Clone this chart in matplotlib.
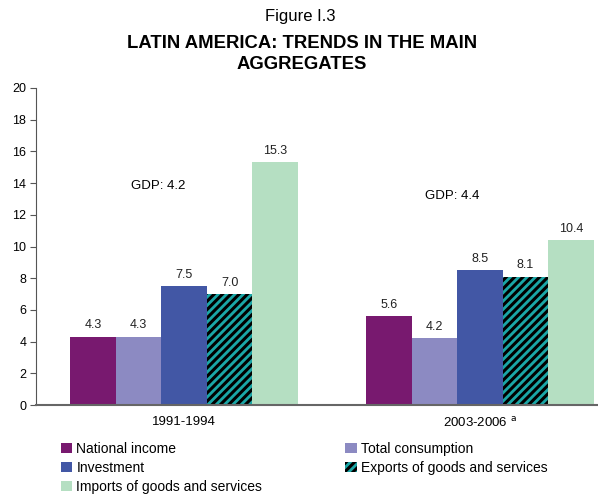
import matplotlib.pyplot as plt
import numpy as np

plt.rcParams["font.family"] = ["Liberation Sans", "DejaVu Sans"]
plt.rcParams["hatch.linewidth"] = 2.2

periods = ["1991-1994", "2003-2006"]
series = [
    "National income",
    "Total consumption",
    "Investment",
    "Exports of goods and services",
    "Imports of goods and services",
]
values = [
    [4.3, 5.6],
    [4.3, 4.2],
    [7.5, 8.5],
    [7.0, 8.1],
    [15.3, 10.4],
]
gdp = [4.2, 4.4]

colors = ["#78196F", "#8C8AC2", "#4257A5", "#1AA6A6", "#B5DFC2"]
hatches = [None, None, None, "////", None]

W, H = 598, 496
fig = plt.figure(figsize=(W / 100, H / 100), dpi=100)
ax = fig.add_axes([36 / W, (H - 405) / H, (598 - 36) / W, (405 - 88) / H])

x = np.arange(len(periods))
width = 0.154
for i, (name, vals) in enumerate(zip(series, values)):
    pos = x + (i - 2) * width
    if hatches[i]:
        bars = ax.bar(pos, vals, width, color=colors[i], edgecolor="black",
                      hatch=hatches[i], linewidth=0, label=name)
    else:
        bars = ax.bar(pos, vals, width, color=colors[i], linewidth=0, label=name)
    for b, v in zip(bars, vals):
        ax.text(b.get_x() + b.get_width() / 2, v + 0.35, f"{v:.1f}",
                ha="center", va="bottom", fontsize=9, color="#222222")

ax.set_xlim(-0.5, 1.5 - 30 / 296)
ax.set_ylim(0, 20)
ax.set_yticks(range(0, 21, 2))
ax.tick_params(axis="y", labelsize=9, length=4, color="#555555", width=0.8, pad=3)
ax.set_xticks([])
for s in ["top", "right"]:
    ax.spines[s].set_visible(False)
ax.spines["left"].set_color("#555555")
ax.spines["left"].set_linewidth(0.8)
ax.spines["bottom"].set_color("#666666")
ax.spines["bottom"].set_linewidth(1.5)

# period labels under the axis
ax.text(0, -0.7, periods[0], ha="center", va="top", fontsize=9.5)
ax.text(1, -0.7, periods[1] + " $^{\\mathrm{a}}$", ha="center", va="top", fontsize=9.5)

# GDP growth notes above each group
ax.text(-0.18, 13.8, f"GDP: {gdp[0]}", ha="left", va="center", fontsize=9.5)
ax.text(-0.186 + 1, 13.2, f"GDP: {gdp[1]}", ha="left", va="center", fontsize=9.5)

fig.text(300 / W, 1 - 17 / H, "Figure I.3", ha="center", va="center", fontsize=12)
fig.text(302 / W, 1 - 54 / H, "LATIN AMERICA: TRENDS IN THE MAIN\nAGGREGATES",
         ha="center", va="center", fontsize=13.3, fontweight="bold", linespacing=1.25)

handles, labels = ax.get_legend_handles_labels()
order = [0, 2, 4, 1, 3]
fig.legend([handles[k] for k in order], [labels[k] for k in order],
           loc="upper left", bbox_to_anchor=(61 / W, 1 - 442 / H), ncol=2,
           frameon=False, fontsize=10, handlelength=0.8, handleheight=0.8,
           handletextpad=0.3, columnspacing=6.0, labelspacing=0.35,
           borderaxespad=0, borderpad=0)

fig.savefig("out.png", dpi=100)
plt.close(fig)
